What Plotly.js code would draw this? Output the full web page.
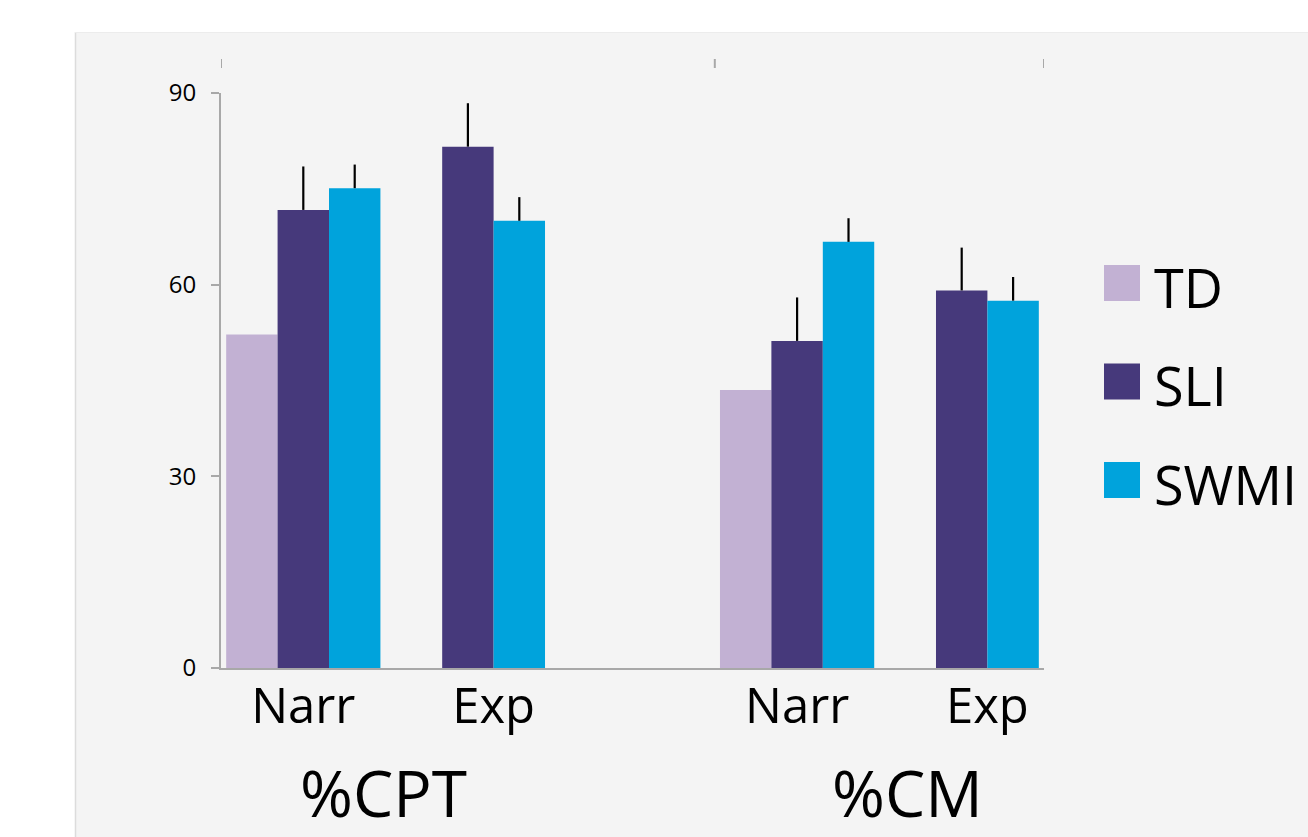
<!DOCTYPE html>
<html>
<head>
<meta charset="utf-8">
<script src="https://cdn.plot.ly/plotly-3.0.1.min.js"></script>
<style>html,body{margin:0;padding:0;background:#fff;}#chart{width:1308px;height:837px;}</style>
</head>
<body>
<div id="chart"></div>
<script>
// ---- data ----
const groups = ["%CPT", "%CM"];
const tasks = ["Narr", "Exp"];
const seriesNames = ["TD", "SLI", "SWMI"];
// values in order: %CPT Narr, %CPT Exp, %CM Narr, %CM Exp
const tdValues   = [52.2, null, 43.5, null];
const sliValues  = [71.7, 81.6, 51.2, 59.1];
const swmiValues = [75.1, 70.0, 66.7, 57.5];
const tdErr   = [0, 0, 0, 0];
const sliErr  = [6.8, 6.8, 6.8, 6.7];
const swmiErr = [3.7, 3.7, 3.7, 3.7];
const yTicks = [0, 30, 60, 90];

// ---- layout helpers ----
const colors = ["#c2b1d3", "#46397b", "#00a3dc"];
const values = [tdValues, sliValues, swmiValues];
const errs = [tdErr, sliErr, swmiErr];
const bargap = 0.063;
const slot = (1 - bargap) / seriesNames.length;

// x position: each group occupies tasks.length units, with one empty unit between groups
const xs = [];
const cats = [];
groups.forEach((g, gi) => tasks.forEach((t, ti) => { xs.push(gi * (tasks.length + 1) + ti); cats.push([g, t]); }));

const traces = seriesNames.map((name, k) => ({
  type: "bar",
  name: name,
  x: xs,
  y: values[k],
  marker: { color: colors[k], line: { width: 0 } },
  error_y: {
    type: "data", symmetric: false,
    array: errs[k], arrayminus: errs[k].map(() => 0),
    visible: k > 0, color: "#000", thickness: 2.2, width: 0
  },
  showlegend: false,
  hoverinfo: "x+y+name"
}));

// tick label positions: centre of the bars that carry data at each x
const tickvals = xs.map((x, i) => {
  const present = values.map((v, k) => v[i] != null ? (k - 1) * slot : null).filter(v => v != null);
  return x + present.reduce((a, b) => a + b, 0) / present.length;
});
const ticktext = cats.map(c => c[1]);

const L = 221, R = 264, T = 93, B = 169;
const W = 1308, H = 837;
const pw = W - L - R, ph = H - T - B;
const px2x = p => (p - L) / pw;
const py2y = p => (H - B - p) / ph;

const FONT = "'Open Sans', Lato, 'DejaVu Sans', sans-serif";

const shapes = [
  // grey panel
  { type: "rect", xref: "paper", yref: "paper", x0: px2x(75), x1: px2x(1320), y0: py2y(850), y1: py2y(32),
    fillcolor: "#f4f4f4", line: { width: 0 }, layer: "below" },
  { type: "line", xref: "paper", yref: "paper", x0: px2x(75.5), x1: px2x(75.5), y0: py2y(850), y1: py2y(32),
    line: { color: "#dcdcdc", width: 1.5 }, layer: "below" },
  { type: "line", xref: "paper", yref: "paper", x0: px2x(75), x1: px2x(1320), y0: py2y(32.5), y1: py2y(32.5),
    line: { color: "#ececec", width: 1 }, layer: "below" }
];
// top divider ticks: left edge, end of the gap after each group, right edge
const dividers = [-0.5];
groups.forEach((g, gi) => {
  const end = gi * (tasks.length + 1) + tasks.length - 0.5;
  dividers.push(gi < groups.length - 1 ? end + 1 : end);
});
dividers.forEach(d => shapes.push({
  type: "line", xref: "x", yref: "paper", x0: d, x1: d, y0: py2y(68), y1: py2y(59),
  line: { color: "#a8a8a8", width: 2 }
}));

const annotations = [];
// group labels
const groupCentersPx = [383, 907];
groups.forEach((g, gi) => annotations.push({
  text: g, xref: "paper", yref: "paper", x: px2x(groupCentersPx[gi]), y: py2y(792),
  xanchor: "center", yanchor: "middle", showarrow: false,
  font: { family: FONT, size: 64, color: "#000" }
}));
// legend
seriesNames.forEach((name, k) => {
  const cy = 283 + k * 98.5;
  shapes.push({ type: "rect", xref: "paper", yref: "paper",
    x0: px2x(1104), x1: px2x(1140), y0: py2y(cy + 18), y1: py2y(cy - 18),
    fillcolor: colors[k], line: { width: 0 } });
  annotations.push({ text: name, xref: "paper", yref: "paper", x: px2x(1152), y: py2y(cy + 4),
    xanchor: "left", yanchor: "middle", showarrow: false,
    font: { family: FONT, size: 54, color: "#000" } });
});

const layout = {
  width: W, height: H,
  margin: { l: L, r: R, t: T, b: B, pad: 0 },
  paper_bgcolor: "#ffffff",
  plot_bgcolor: "rgba(0,0,0,0)",
  barmode: "group",
  bargap: bargap,
  bargroupgap: 0,
  showlegend: false,
  font: { family: FONT, color: "#000" },
  xaxis: {
    range: [-0.5, xs[xs.length - 1] + 0.5],
    tickvals: tickvals, ticktext: ticktext,
    ticks: "", showgrid: false, zeroline: false,
    showline: true, linecolor: "#a8a8a8", linewidth: 2,
    tickfont: { family: FONT, size: 49, color: "#000" },
    ticklabelstandoff: -6,
    fixedrange: true
  },
  yaxis: {
    range: [0, 90],
    tickvals: yTicks,
    ticks: "outside", ticklen: 8, tickwidth: 2, tickcolor: "#a8a8a8",
    showline: true, linecolor: "#a8a8a8", linewidth: 2,
    showgrid: false, zeroline: false,
    tickfont: { family: FONT, size: 24, color: "#000" },
    ticklabelstandoff: 10,
    fixedrange: true
  },
  shapes: shapes,
  annotations: annotations
};

Plotly.newPlot("chart", traces, layout, { displayModeBar: false, staticPlot: false });
</script>
</body>
</html>
